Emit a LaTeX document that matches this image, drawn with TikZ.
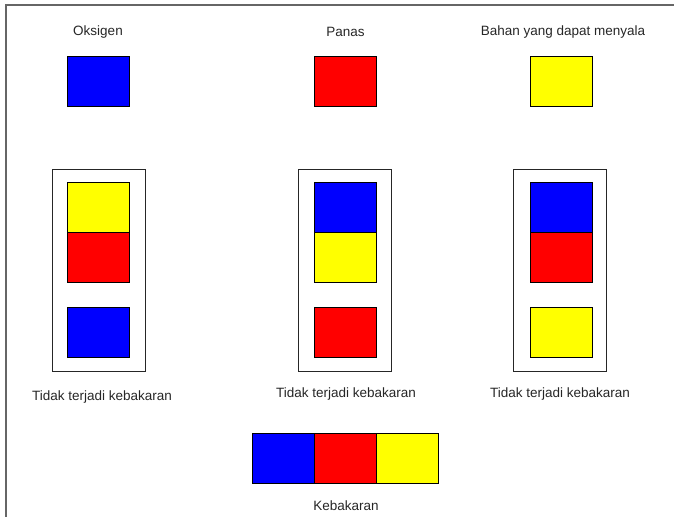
\documentclass[tikz,border=0pt]{standalone}
\usepackage{fontspec}
\setmainfont{Liberation Sans}
\definecolor{cblue}{RGB}{0,0,255}
\definecolor{cred}{RGB}{255,0,0}
\definecolor{cyellow}{RGB}{255,255,0}
\begin{document}
\begin{tikzpicture}[x=1pt,y=-1pt,
  block/.style={draw=black,line width=0.9pt,minimum width=62pt,minimum height=50pt,inner sep=0pt,outer sep=0pt},
  holder/.style={draw=black!85,line width=0.9pt,minimum width=93pt,minimum height=202pt,inner sep=0pt},
  lbl/.style={font=\fontsize{13.5}{16}\selectfont,text=black!85,inner sep=0pt}]
\useasboundingbox (0,0) rectangle (674,517);
% frame edges
\coordinate (ftl) at (6,5);
\coordinate (ftr) at (674,5);
\coordinate (fbl) at (6,517);
\draw[black!60,line width=1.2pt] (ftr) -- (ftl) -- (fbl);

% the three elements
\node[lbl] (lo) at (98,32) {Oksigen};
\node[lbl] (lp) at (345.5,32) {Panas};
\node[lbl] (lb) at (563,32) {Bahan yang dapat menyala};
\node[block,fill=cblue] (so) at (98,81) {};
\node[block,fill=cred] (sp) at (345.5,81) {};
\node[block,fill=cyellow] (sb) at (561,81) {};

% holders with one element kept apart
\node[holder] (h1) at (98.5,270) {};
\node[holder] (h2) at (344.5,270) {};
\node[holder] (h3) at (559.5,270) {};

\node[block,fill=cyellow] (a1) at (98,207) {};
\node[block,fill=cred] (a2) at (98,257) {};
\node[block,fill=cblue] (a3) at (98,332.5) {};

\node[block,fill=cblue] (b1) at (345.5,207) {};
\node[block,fill=cyellow] (b2) at (345.5,257) {};
\node[block,fill=cred] (b3) at (345.5,332.5) {};

\node[block,fill=cblue] (c1) at (561,207) {};
\node[block,fill=cred] (c2) at (561,257) {};
\node[block,fill=cyellow] (c3) at (561,332.5) {};

\node[lbl] (t1) at (102,397) {Tidak terjadi kebakaran};
\node[lbl] (t2) at (346,394) {Tidak terjadi kebakaran};
\node[lbl] (t3) at (560,394) {Tidak terjadi kebakaran};

% all three together
\node[block,fill=cblue] (k1) at (283,458) {};
\node[block,fill=cred] (k2) at (345,458) {};
\node[block,fill=cyellow] (k3) at (407,458) {};
\node[lbl] (lk) at (346,506) {Kebakaran};
\end{tikzpicture}
\end{document}
